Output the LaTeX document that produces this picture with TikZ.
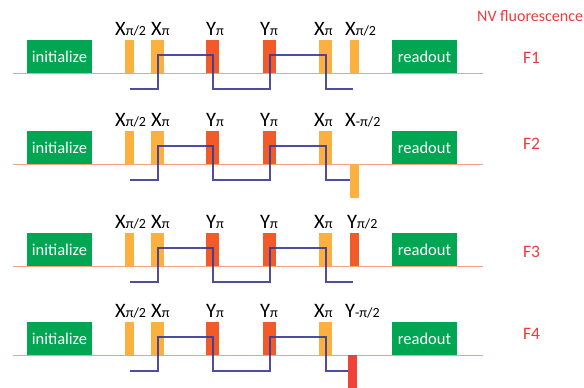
\documentclass[tikz,border=0pt]{standalone}
\usepackage{fontspec}
\setmainfont{Carlito}
\usepackage{xcolor}
\usetikzlibrary{positioning}
\definecolor{seqgreen}{HTML}{00A651}
\definecolor{pulseorange}{HTML}{FBB040}
\definecolor{pulsered}{HTML}{F15A29}
\definecolor{pulsedeep}{HTML}{EF4136}
\definecolor{lineorange}{HTML}{F7A07E}
\definecolor{echoblue}{HTML}{3A3A98}
\definecolor{nvred}{HTML}{EE3A3A}
\newcommand{\plabel}[2]{#1\raisebox{-0.6pt}{\fontsize{14}{14}\selectfont #2}}

\begin{document}
\begin{tikzpicture}[
  x=1pt, y=-1pt,
  font=\fontsize{20.5}{22}\selectfont,
  seqbox/.style={fill=seqgreen, text=white, minimum width=65pt, minimum height=33pt, inner sep=0pt, outer sep=0pt, anchor=south west, font=\fontsize{16.5}{18}\selectfont},
  pulse/.style={fill=#1, inner sep=0pt, outer sep=0pt, minimum height=33pt, anchor=south west},
  negpulse/.style={fill=#1, inner sep=0pt, outer sep=0pt, minimum width=9pt, minimum height=34pt, anchor=north west},
  plbl/.style={anchor=base west, inner sep=0pt},
  flbl/.style={anchor=base west, inner sep=0pt, text=nvred, font=\fontsize{17.5}{19}\selectfont},
  baseln/.style={draw=lineorange, line width=0.9pt},
  echo/.style={draw=echoblue, line width=1.2pt, opacity=0.9}
]
  \useasboundingbox (0,0) rectangle (584,388);

  \node[flbl, font=\fontsize{16}{18}\selectfont] (nv) at (477,21) {NV fluorescence};

  \foreach \b/\n in {73/1,164/2,266/3,355/4}{
    \draw[baseln] (13,\b) coordinate (l\n) -- (483,\b) coordinate (r\n);
    \node[seqbox] (init\n) at (27,\b) {initialize};
    \node[seqbox] (read\n) at (392,\b) {readout};

    \node[pulse=pulseorange, minimum width=9pt] (pa\n) at (125,\b) {};
    \node[pulse=pulseorange, minimum width=13pt] (pb\n) at (151,\b) {};
    \node[pulse=pulsered, minimum width=13pt] (pc\n) at (206,\b) {};
    \node[pulse=pulsered, minimum width=13pt] (pd\n) at (263,\b) {};
    \node[pulse=pulseorange, minimum width=13pt] (pe\n) at (319,\b) {};

    \node[plbl] (la\n) at (115,\b-38) {\plabel{X}{π/2}};
    \node[plbl] (lb\n) at (151,\b-38) {\plabel{X}{π}};
    \node[plbl] (lc\n) at (206,\b-38) {\plabel{Y}{π}};
    \node[plbl] (ld\n) at (260,\b-38) {\plabel{Y}{π}};
    \node[plbl] (le\n) at (314,\b-38) {\plabel{X}{π}};

    \draw[echo] (130,\b+16) coordinate (ea\n) -| (158,\b-18) -| (213,\b+16)
      -| (270,\b-18) -| (326,\b+16) -- (353,\b+16) coordinate (eb\n);
  }

  % last pulse of each row
  \node[pulse=pulseorange, minimum width=9pt] (pf1) at (350,73) {};
  \node[plbl] (lf1) at (345,35) {\plabel{X}{π/2}};
  \node[negpulse=pulseorange] (pf2) at (350,164) {};
  \node[plbl] (lf2) at (345,126) {\plabel{X}{-π/2}};
  \node[pulse=pulsered, minimum width=9pt] (pf3) at (350,266) {};
  \node[plbl] (lf3) at (347,228) {\plabel{Y}{π/2}};
  \node[negpulse=pulsedeep] (pf4) at (348,355) {};
  \node[plbl] (lf4) at (345,317) {\plabel{Y}{-π/2}};

  \node[flbl] (f1) at (523,63) {F1};
  \node[flbl] (f2) at (523,149) {F2};
  \node[flbl] (f3) at (523,257) {F3};
  \node[flbl] (f4) at (523,339) {F4};
\end{tikzpicture}
\end{document}
